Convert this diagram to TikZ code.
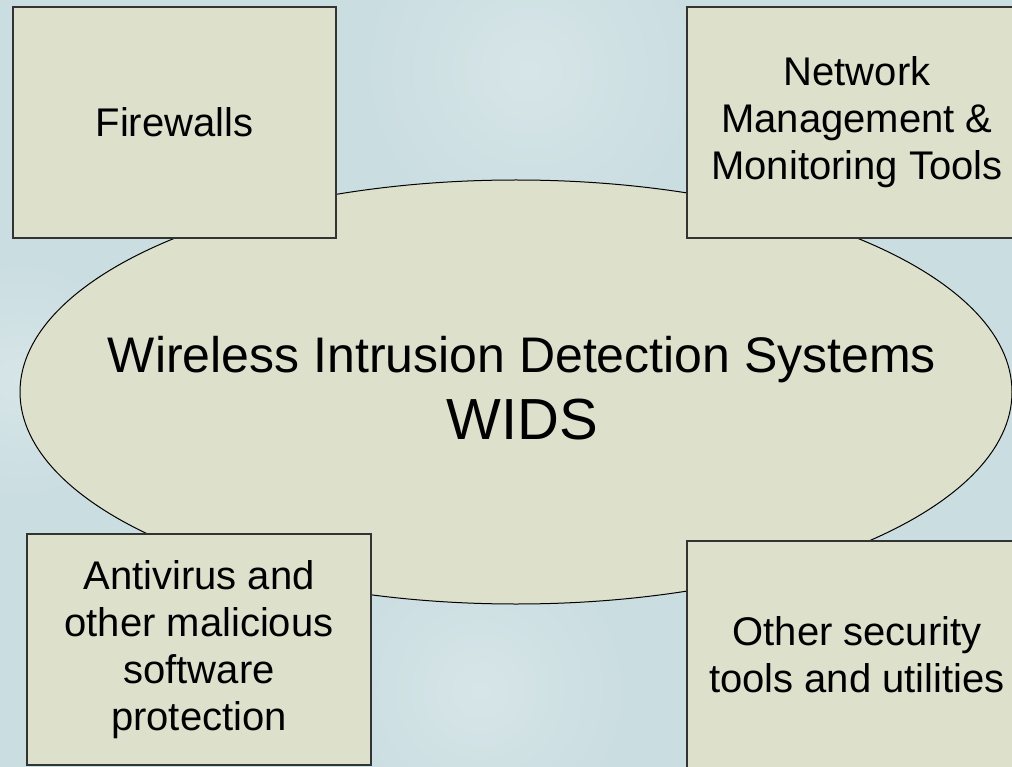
\documentclass[tikz,border=0pt]{standalone}
\usepackage{fontspec}
\setmainfont{Liberation Sans}
\usetikzlibrary{shapes.geometric}
\definecolor{bgblue}{HTML}{CADDE1}
\definecolor{bglight}{HTML}{D6E5E8}
\definecolor{boxfill}{HTML}{DDE0CA}
\begin{document}
\begin{tikzpicture}[x=1pt,y=-1pt,
  card/.style={draw=black!80, line width=1.2pt, fill=boxfill, rectangle, inner sep=0pt, align=center, font=\fontsize{40}{47}\selectfont},
  hub/.style={draw=black, line width=1pt, fill=boxfill, ellipse, inner sep=0pt, minimum width=992pt, minimum height=424pt},
  hubtext/.style={anchor=base, inner sep=0pt},
  glow/.style={inner color=bglight, outer color=bgblue}]
\useasboundingbox (0,0) rectangle (1012,767);
\clip (0,0) rectangle (1012,767);
\fill[bgblue] (0,0) rectangle (1012,767);
\shade[glow] (530,70) circle (170);
\shade[glow] (20,380) circle (120);
\shade[glow] (480,690) circle (150);
\node[hub] (hub) at (516,392) {};
\node[hubtext, font=\fontsize{50}{58}\selectfont] (t1) at (522,372) {Wireless Intrusion Detection Systems};
\node[hubtext, font=\fontsize{58}{67}\selectfont] (t2) at (522,439) {WIDS};
\node[card, minimum width=323pt, minimum height=231pt] (fw) at (174.5,122.5) {Firewalls};
\node[card, minimum width=340pt, minimum height=231pt] (nm) at (857,122.5) {Network\\Management \&\\Monitoring Tools};
\node[card, minimum width=344pt, minimum height=231pt] (av) at (199,649.5) {Antivirus and\\other malicious\\software\\protection};
\node[card, minimum width=340pt, minimum height=227pt] (os) at (857,654.5) {Other security\\tools and utilities};
\end{tikzpicture}
\end{document}
